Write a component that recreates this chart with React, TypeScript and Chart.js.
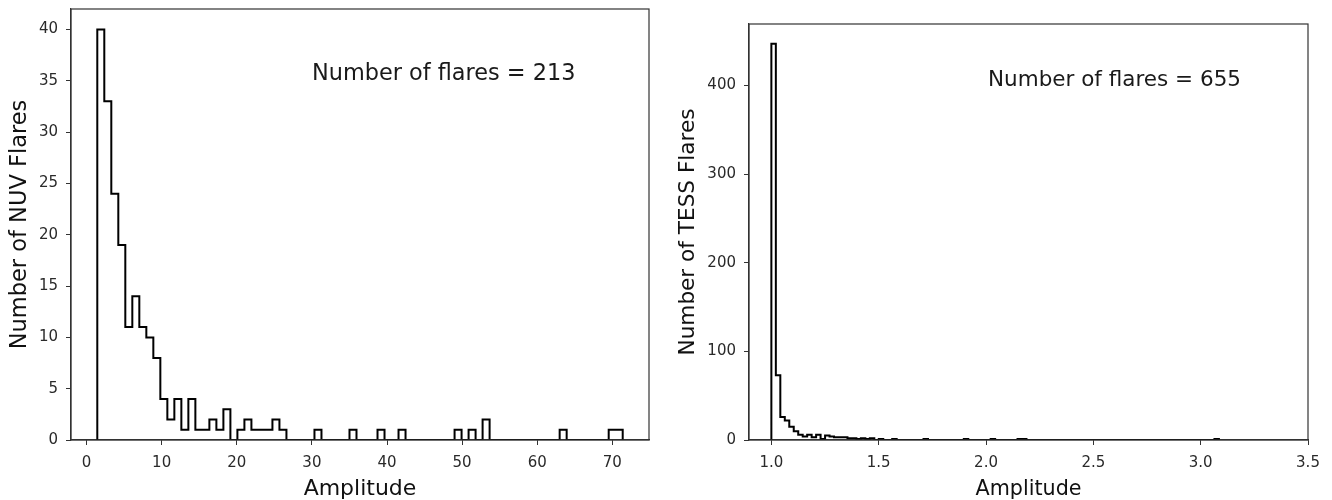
import React, { useEffect, useRef } from 'react';
import { Chart, registerables } from 'chart.js';

Chart.register(...registerables);

// ---- NUV histogram (left panel) ----
const nuvBinMin = 1.43;
const nuvBinMax = 71.38;
const nuvCounts = [
  40, 33, 24, 19, 11, 14, 11, 10, 8, 4,
  2, 4, 1, 4, 1, 1, 2, 1, 3, 0,
  1, 2, 1, 1, 1, 2, 1, 0, 0, 0,
  0, 1, 0, 0, 0, 0, 1, 0, 0, 0,
  1, 0, 0, 1, 0, 0, 0, 0, 0, 0,
  0, 1, 0, 1, 0, 2, 0, 0, 0, 0,
  0, 0, 0, 0, 0, 0, 1, 0, 0, 0,
  0, 0, 0, 1, 1,
];
const nuvXTicks = [0, 10, 20, 30, 40, 50, 60, 70];
const nuvYTicks = [0, 5, 10, 15, 20, 25, 30, 35, 40];
const nuvNote = 'Number of flares = 213';
const nuvYTitle = 'Number of NUV Flares';

// ---- TESS histogram (right panel) ----
const tessBinMin = 1.0;
const tessBinMax = 3.085;
const tessCounts = [
  447, 73, 26, 22, 15, 10, 6, 4, 6, 3,
  6, 1, 5, 4, 3, 3, 3, 2, 2, 1,
  2, 1, 2, 0, 1, 0, 0, 1, 0, 0,
  0, 0, 0, 0, 1, 0, 0, 0, 0, 0,
  0, 0, 0, 1, 0, 0, 0, 0, 0, 1,
  0, 0, 0, 0, 0, 1, 1, 0, 0, 0,
  0, 0, 0, 0, 0, 0, 0, 0, 0, 0,
  0, 0, 0, 0, 0, 0, 0, 0, 0, 0,
  0, 0, 0, 0, 0, 0, 0, 0, 0, 0,
  0, 0, 0, 0, 0, 0, 0, 0, 0, 1,
];
const tessXTicks = [1.0, 1.5, 2.0, 2.5, 3.0, 3.5];
const tessYTicks = [0, 100, 200, 300, 400];
const tessNote = 'Number of flares = 655';
const tessYTitle = 'Number of TESS Flares';

const xTitle = 'Amplitude';
const FONT = "'DejaVu Sans', sans-serif";
const INK = '#2a2a2a';
const SPINE = '#333';

function binEdges(min: number, max: number, n: number) {
  const w = (max - min) / n;
  const e: number[] = [];
  for (let i = 0; i <= n; i++) e.push(min + i * w);
  return e;
}

function histPoints(edges: number[], counts: number[]) {
  const pts: { x: number; y: number }[] = [{ x: edges[0], y: 0 }];
  counts.forEach((c, i) => {
    pts.push({ x: edges[i], y: c });
    pts.push({ x: edges[i + 1], y: c });
  });
  pts.push({ x: edges[edges.length - 1], y: 0 });
  return pts;
}

const boxPlugin = {
  id: 'boxFrame',
  afterDraw(chart: any) {
    const { ctx, chartArea: a } = chart;
    ctx.save();
    ctx.strokeStyle = SPINE;
    ctx.lineWidth = 1.2;
    ctx.strokeRect(a.left, a.top, a.right - a.left, a.bottom - a.top);
    ctx.restore();
  },
};

const notePlugin = {
  id: 'note',
  afterDraw(chart: any) {
    const o = chart.options.plugins.note;
    if (!o) return;
    const { ctx } = chart;
    ctx.save();
    ctx.fillStyle = '#1a1a1a';
    ctx.font = `${o.size}px ${FONT}`;
    ctx.textAlign = 'left';
    ctx.textBaseline = 'alphabetic';
    ctx.fillText(o.text, o.x, o.y);
    ctx.restore();
  },
};

interface PanelCfg {
  edges: number[];
  counts: number[];
  xMin: number;
  xMax: number;
  yMax: number;
  xTicks: number[];
  yTicks: number[];
  xFmt: (v: number) => string;
  yTitle: string;
  note: string;
  noteX: number;
  noteY: number;
  noteSize: number;
  xTitleSize: number;
  yTitleSize: number;
  yTitlePad: number;
  yAxisWidth: number;
  padTop: number;
  padRight: number;
  width: number;
}

function Panel({ cfg, left }: { cfg: PanelCfg; left: number }) {
  const ref = useRef<HTMLCanvasElement>(null);
  useEffect(() => {
    if (!ref.current) return;
    const chart = new Chart(ref.current, {
      type: 'line',
      data: {
        datasets: [
          {
            data: histPoints(cfg.edges, cfg.counts),
            borderColor: '#000',
            borderWidth: 2,
            pointRadius: 0,
            fill: false,
            tension: 0,
          },
        ],
      },
      options: {
        animation: false,
        responsive: false,
        devicePixelRatio: 1,
        layout: { padding: { top: cfg.padTop, right: cfg.padRight, left: 0, bottom: 0 } },
        plugins: {
          legend: { display: false },
          tooltip: { enabled: false },
          // @ts-ignore
          note: { text: cfg.note, x: cfg.noteX, y: cfg.noteY, size: cfg.noteSize },
        },
        scales: {
          x: {
            type: 'linear',
            min: cfg.xMin,
            max: cfg.xMax,
            afterFit: (s: any) => {
              s.height = 60;
              s.paddingLeft = 0;
              s.paddingRight = 0;
            },
            afterBuildTicks: (s: any) => { s.ticks = cfg.xTicks.map((v) => ({ value: v })); },
            ticks: {
              color: INK,
              font: { family: FONT, size: 15 },
              padding: 9,
              maxRotation: 0,
              autoSkip: false,
              callback: (v: any) => cfg.xFmt(Number(v)),
            },
            grid: { drawOnChartArea: false, drawTicks: true, tickLength: 5, color: SPINE },
            border: { display: true, color: SPINE, width: 1.2 },
            title: {
              display: true,
              text: xTitle,
              color: '#111',
              font: { family: FONT, size: cfg.xTitleSize, lineHeight: 1 },
              padding: { top: 0, bottom: 0 },
            },
          },
          y: {
            type: 'linear',
            min: 0,
            max: cfg.yMax,
            afterFit: (s: any) => {
              s.width = cfg.yAxisWidth;
              s.paddingTop = 0;
              s.paddingBottom = 0;
            },
            afterBuildTicks: (s: any) => { s.ticks = cfg.yTicks.map((v) => ({ value: v })); },
            ticks: {
              color: INK,
              font: { family: FONT, size: 15 },
              padding: 8,
              autoSkip: false,
              callback: (v: any) => String(v),
            },
            grid: { drawOnChartArea: false, drawTicks: true, tickLength: 5, color: SPINE },
            border: { display: true, color: SPINE, width: 1.2 },
            title: {
              display: true,
              text: cfg.yTitle,
              color: '#111',
              font: { family: FONT, size: cfg.yTitleSize, lineHeight: 1 },
              padding: { top: cfg.yTitlePad, bottom: 0 },
            },
          },
        },
      } as any,
      plugins: [boxPlugin, notePlugin],
    });
    return () => chart.destroy();
  }, []);
  return (
    <canvas
      ref={ref}
      width={cfg.width}
      height={500}
      style={{ position: 'absolute', left, top: 0, width: cfg.width, height: 500 }}
    />
  );
}

const leftCfg: PanelCfg = {
  edges: binEdges(nuvBinMin, nuvBinMax, nuvCounts.length),
  counts: nuvCounts,
  xMin: -2.07,
  xMax: 74.88,
  yMax: 42,
  xTicks: nuvXTicks,
  yTicks: nuvYTicks,
  xFmt: (v) => String(v),
  yTitle: nuvYTitle,
  note: nuvNote,
  noteX: 312,
  noteY: 80,
  noteSize: 22.4,
  xTitleSize: 22,
  yTitleSize: 22.5,
  yTitlePad: 9,
  yAxisWidth: 71,
  padTop: 9,
  padRight: 11,
  width: 660,
};

const rightCfg: PanelCfg = {
  edges: binEdges(tessBinMin, tessBinMax, tessCounts.length),
  counts: tessCounts,
  xMin: 0.8958,
  xMax: 3.5,
  yMax: 469.35,
  xTicks: tessXTicks,
  yTicks: tessYTicks,
  xFmt: (v) => v.toFixed(1),
  yTitle: tessYTitle,
  note: tessNote,
  noteX: 328,
  noteY: 86,
  noteSize: 21.5,
  xTitleSize: 20.7,
  yTitleSize: 21.6,
  yTitlePad: 18,
  yAxisWidth: 89,
  padTop: 24,
  padRight: 24,
  width: 672,
};

export default function App() {
  return (
    <div
      style={{
        position: 'fixed',
        left: 0,
        top: 0,
        width: 1332,
        height: 500,
        background: '#fff',
        overflow: 'hidden',
      }}
    >
      <Panel cfg={leftCfg} left={0} />
      <Panel cfg={rightCfg} left={660} />
    </div>
  );
}
